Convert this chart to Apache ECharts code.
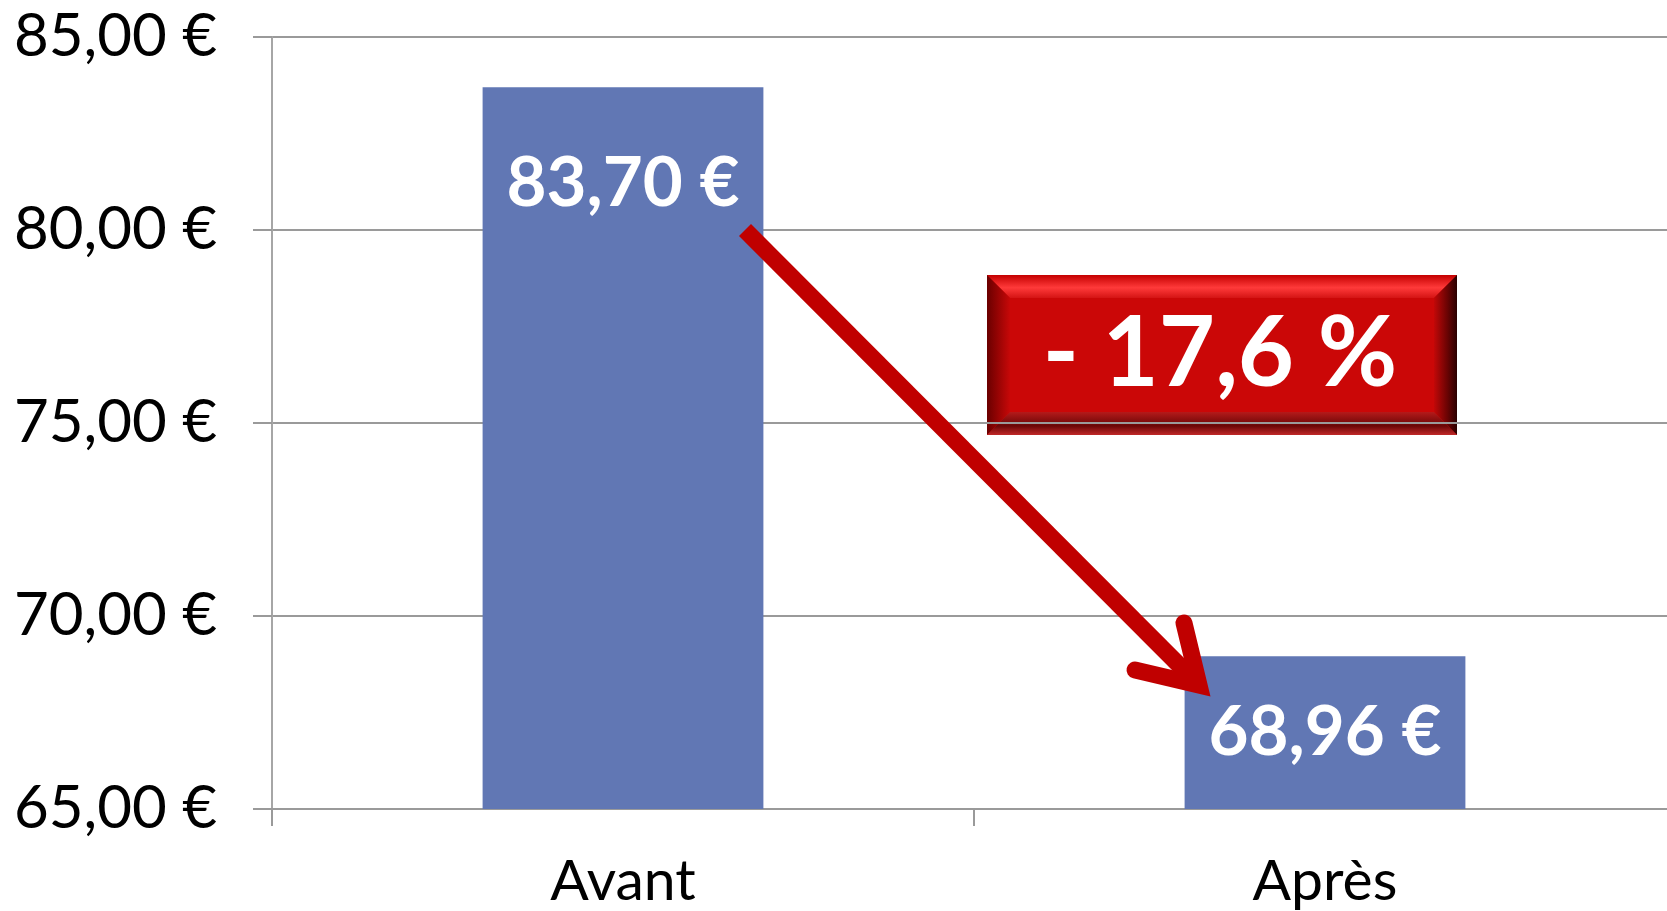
<!DOCTYPE html>
<html>
<head>
<meta charset="utf-8">
<title>Avant / Après</title>
<script src="https://cdn.jsdelivr.net/npm/echarts@6/dist/echarts.min.js"></script>
<style>
  html, body { margin: 0; padding: 0; background: #fff; }
  #chart { width: 1667px; height: 911px; }
</style>
</head>
<body>
<div id="chart"></div>
<script>
// data
var categories = ['Avant', 'Après']
var prices = [83.70, 68.96]
var yTicks = { min: 65, max: 85, step: 5 }
var changeText = '- 17,6 %'

var FONT = 'Lato, "Open Sans", sans-serif'
var RED = '#C00000'

function euro(v) {
  return v.toFixed(2).replace('.', ',') + ' €'
}

// label offset from the bar top (px), one per bar
var labelOffsets = [97, 77]

var chart = echarts.init(document.getElementById('chart'))

chart.setOption({
  animation: false,
  grid: {
    left: 272,
    top: 37,
    width: 1404,
    height: 772,
    containLabel: false,
    outerBoundsMode: 'none'
  },
  xAxis: {
    type: 'category',
    data: categories,
    boundaryGap: true,
    axisLine: { show: true, lineStyle: { color: '#9a9a9a', width: 2 } },
    axisTick: { show: true, length: 17, lineStyle: { color: '#9a9a9a', width: 2 } },
    axisLabel: { color: '#000', fontFamily: FONT, fontSize: 57, margin: 44 }
  },
  yAxis: {
    type: 'value',
    min: yTicks.min,
    max: yTicks.max,
    interval: yTicks.step,
    axisLine: { show: true, lineStyle: { color: '#a6a6a6', width: 2 } },
    axisTick: { show: true, length: 19, lineStyle: { color: '#9a9a9a', width: 2 } },
    splitLine: { show: true, lineStyle: { color: '#9a9a9a', width: 2 } },
    axisLabel: {
      color: '#000',
      fontFamily: FONT,
      fontSize: 60,
      margin: 55,
      formatter: function(v) { return euro(v) }
    }
  },
  series: [
    {
      type: 'bar',
      barWidth: '40%',
      itemStyle: { color: '#6177B4' },
      data: prices.map(function(v, i) {
        return {
          value: v,
          label: {
            show: true,
            position: ['50%', labelOffsets[i]],
            align: 'center',
            verticalAlign: 'middle',
            color: '#fff',
            fontFamily: FONT,
            fontWeight: 'bold',
            fontSize: 69,
            formatter: function(p) { return euro(p.value) }
          }
        }
      })
    }
  ],
  graphic: [
    // arrow
    {
      type: 'line',
      z: 100,
      shape: { x1: 745, y1: 230, x2: 1197, y2: 683 },
      style: { stroke: RED, lineWidth: 17, lineCap: 'butt' }
    },
    {
      type: 'polyline',
      z: 100,
      shape: { points: [[1184, 623], [1199, 685], [1135, 670]] },
      style: { stroke: RED, lineWidth: 17, lineJoin: 'miter', lineCap: 'round', fill: null }
    },
    // bevelled red box
    {
      type: 'group',
      z: 100,
      children: [
        {
          type: 'rect',
          shape: { x: 987, y: 275, width: 470, height: 160 },
          style: { fill: '#CB0707' }
        },
        {
          type: 'polygon',
          shape: { points: [[987, 275], [1457, 275], [1434, 298], [1010, 298]] },
          style: {
            fill: new echarts.graphic.LinearGradient(0, 0, 0, 1, [
              { offset: 0, color: '#C40000' },
              { offset: 0.55, color: '#FF3A3A' },
              { offset: 1, color: '#D41414' }
            ])
          }
        },
        {
          type: 'polygon',
          shape: { points: [[987, 275], [1010, 298], [1010, 412], [987, 435]] },
          style: {
            fill: new echarts.graphic.LinearGradient(0, 0, 1, 0, [
              { offset: 0, color: '#6A0000' },
              { offset: 1, color: '#C70808' }
            ])
          }
        },
        {
          type: 'polygon',
          shape: { points: [[1457, 275], [1457, 435], [1434, 412], [1434, 298]] },
          style: {
            fill: new echarts.graphic.LinearGradient(0, 0, 1, 0, [
              { offset: 0, color: '#C20808' },
              { offset: 1, color: '#2A0000' }
            ])
          }
        },
        {
          type: 'polygon',
          shape: { points: [[987, 435], [1010, 412], [1434, 412], [1457, 435]] },
          style: {
            fill: new echarts.graphic.LinearGradient(0, 0, 0, 1, [
              { offset: 0, color: '#B41A1A' },
              { offset: 0.6, color: '#6A0606' },
              { offset: 1, color: '#C02828' }
            ])
          }
        },
        {
          type: 'text',
          style: {
            x: 1220,
            y: 355,
            text: changeText,
            fill: '#fff',
            font: 'bold 97px ' + FONT,
            align: 'center',
            verticalAlign: 'middle'
          }
        }
      ]
    }
  ]
})
</script>
</body>
</html>
